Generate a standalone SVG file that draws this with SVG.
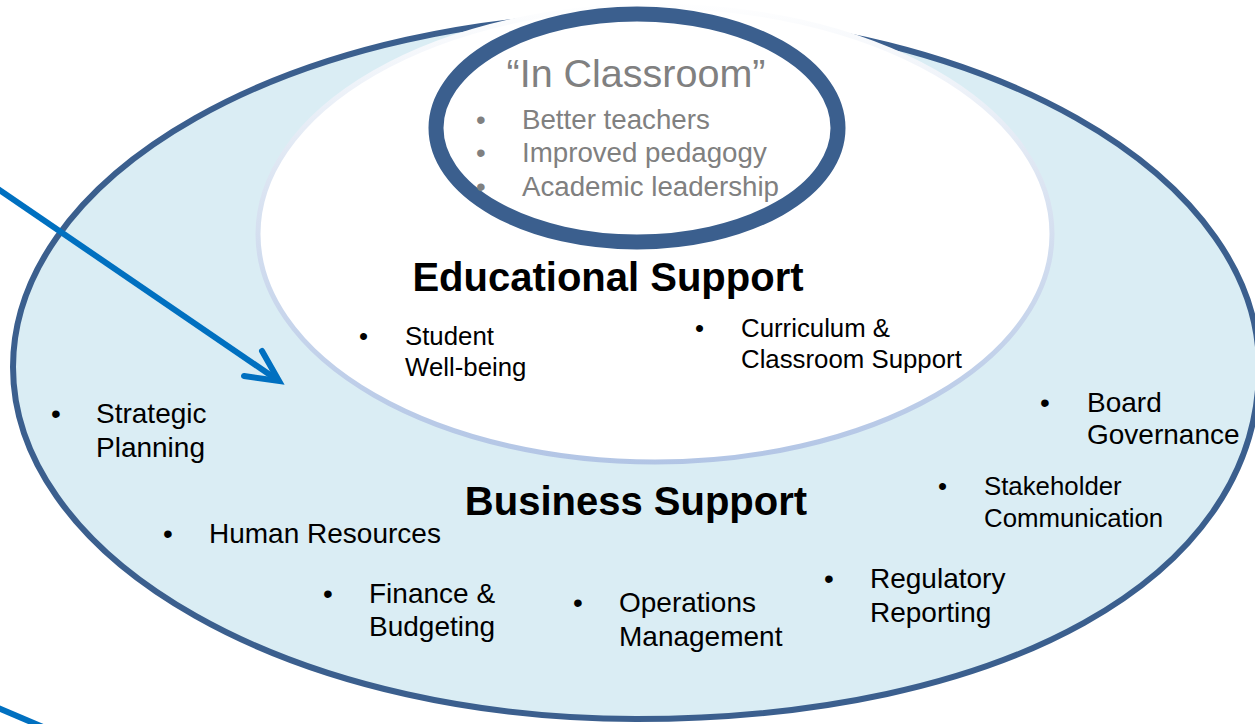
<svg xmlns="http://www.w3.org/2000/svg" width="1255" height="724" viewBox="0 0 1255 724">
<defs>
<linearGradient id="innerStroke" gradientUnits="userSpaceOnUse" x1="0" y1="0" x2="0" y2="465">
<stop offset="0" stop-color="#ffffff"/>
<stop offset="0.35" stop-color="#dfe7f3"/>
<stop offset="1" stop-color="#b2c5e5"/>
</linearGradient>
<style>
.t{font-family:"Liberation Sans",Arial,sans-serif;fill:#000}
.b{font-size:28px}
.s{font-size:25.8px}
.h{font-size:40px;font-weight:bold}
.g{font-family:"Liberation Sans",Arial,sans-serif;fill:#808080}
.arrow{fill:none;stroke:#0070c0;stroke-width:6}
</style>
</defs>
<rect width="1255" height="724" fill="#ffffff"/>
<g id="business-support">
<path d="M 13,367 A 623 352 0 0 1 1259,367 C 1259,580 1000,719 636,719 A 623 352 0 0 1 13,367 Z" fill="#daedf4" stroke="#3b5f8e" stroke-width="6"/>
</g>
<g id="educational-support">
<ellipse cx="655" cy="234" rx="397" ry="228" fill="#ffffff" stroke="url(#innerStroke)" stroke-width="5"/>
</g>
<g id="in-classroom">
<ellipse cx="637" cy="128" rx="201" ry="114" fill="#ffffff" stroke="#3b5f8e" stroke-width="15"/>
<text class="g" x="636" y="87" font-size="39.5" text-anchor="middle">“In Classroom”</text>
<g font-size="27.7">
<text class="g" x="476" y="129">•</text>
<text class="g" x="522" y="129">Better teachers</text>
<text class="g" x="476" y="162">•</text>
<text class="g" x="522" y="162">Improved pedagogy</text>
<text class="g" x="476" y="196">•</text>
<text class="g" x="522" y="196">Academic leadership</text>
</g>
</g>
<g id="educational-labels">
<text class="t h" x="608" y="291" text-anchor="middle">Educational Support</text>
<g id="student-wellbeing">
<text class="t s" x="359" y="345">•</text>
<text class="t s" x="405" y="345">Student</text>
<text class="t s" x="405" y="376">Well-being</text>
</g>
<g id="curriculum">
<text class="t s" x="695" y="337">•</text>
<text class="t s" x="741" y="337">Curriculum &amp;</text>
<text class="t s" x="741" y="368">Classroom Support</text>
</g>
</g>
<g id="business-labels">
<text class="t h" x="636" y="515" text-anchor="middle">Business Support</text>
<g id="strategic-planning">
<text class="t b" x="51" y="423">•</text>
<text class="t b" x="96" y="423">Strategic</text>
<text class="t b" x="96" y="457">Planning</text>
</g>
<g id="human-resources">
<text class="t b" x="163" y="543">•</text>
<text class="t b" x="209" y="543">Human Resources</text>
</g>
<g id="finance">
<text class="t b" x="323" y="603">•</text>
<text class="t b" x="369" y="603">Finance &amp;</text>
<text class="t b" x="369" y="636">Budgeting</text>
</g>
<g id="operations">
<text class="t b" x="573" y="612">•</text>
<text class="t b" x="619" y="612">Operations</text>
<text class="t b" x="619" y="646">Management</text>
</g>
<g id="regulatory">
<text class="t b" x="824" y="588">•</text>
<text class="t b" x="870" y="588">Regulatory</text>
<text class="t b" x="870" y="622">Reporting</text>
</g>
<g id="stakeholder">
<text class="t s" x="938" y="495">•</text>
<text class="t s" x="984" y="495">Stakeholder</text>
<text class="t s" x="984" y="527">Communication</text>
</g>
<g id="board">
<text class="t b" x="1040" y="412">•</text>
<text class="t b" x="1087" y="412">Board</text>
<text class="t b" x="1087" y="444">Governance</text>
</g>
</g>
<g id="connectors">
<line class="arrow" x1="-2" y1="189" x2="276" y2="379"/>
<polyline class="arrow" points="262,351 279,381 244,376" stroke-linecap="round" stroke-linejoin="miter"/>
<line class="arrow" x1="-2" y1="708" x2="50" y2="730"/>
</g>
</svg>
